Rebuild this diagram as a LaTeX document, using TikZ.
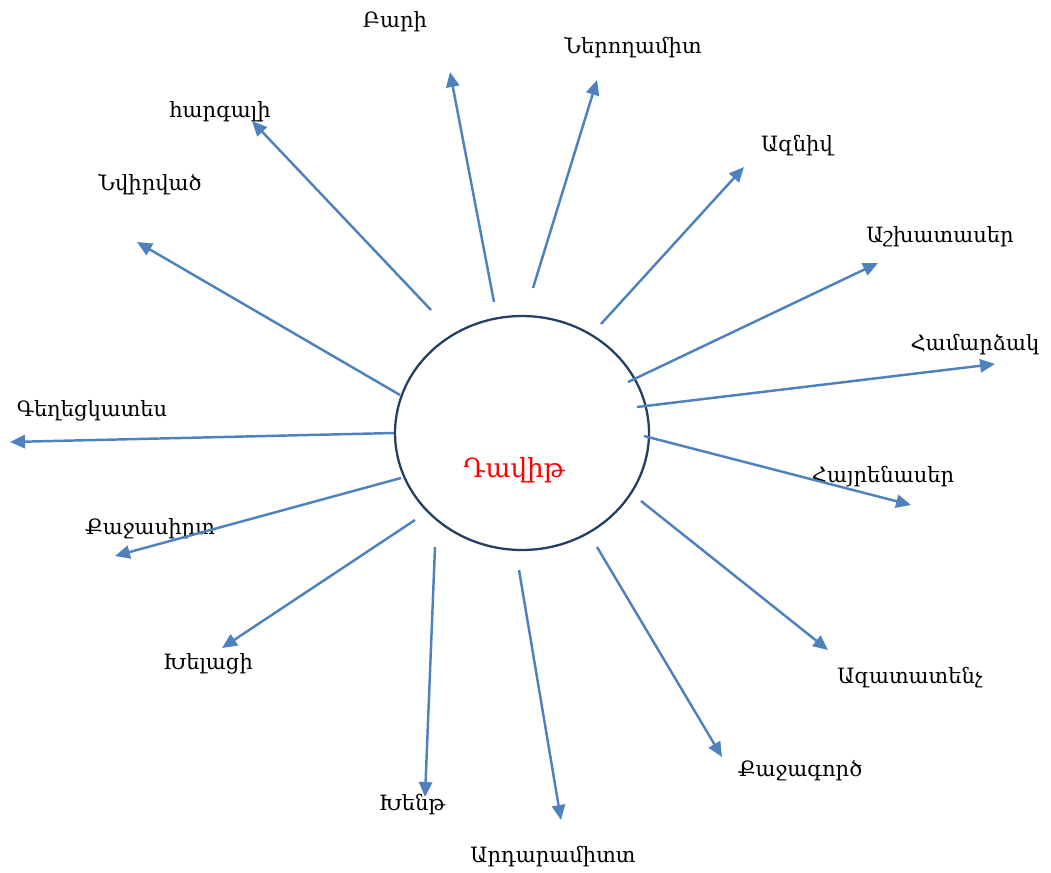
\documentclass[tikz,border=0pt]{standalone}
\usepackage{fontspec}
\setmainfont{DejaVu Serif}
\usetikzlibrary{arrows.meta,shapes.geometric}
\definecolor{spokeblue}{HTML}{4F81BD}
\definecolor{rimnavy}{HTML}{243F60}

\begin{document}
\begin{tikzpicture}[x=0.02cm,y=-0.02cm]

\tikzset{spoke/.style={spokeblue,line width=1.4pt,-{Triangle[length=8.5pt,width=7.5pt]}}}
\tikzset{trait/.style={font=\fontsize{12}{14}\selectfont,inner sep=0pt}}

\useasboundingbox (0,0) rectangle (1051,872);

\node[ellipse,draw=rimnavy,line width=1.3pt,minimum width=5.08cm,minimum height=4.68cm,inner sep=0pt] (david) at (522,433) {};
\node[trait,red,font=\fontsize{15}{17}\selectfont] (name) at (514,470) {Դավիթ};

% spokes: start, tip, tag, label position, word
\foreach \sx/\sy/\ex/\ey/\tag/\lx/\ly/\word in {
  494/302/450/72/bari/395/22/Բարի,
  533/288/597/80/nerogh/633/48/Ներողամիտ,
  431/310/252/121/hargali/220/112/հարգալի,
  601/324/744/167/azniv/797/146/Ազնիվ,
  400/395/137/242/nvirvats/150/185/Նվիրված,
  628/382/878/263/ashkhat/940/237/Աշխատասեր,
  637/407/995/364/hamardz/975/345/Համարձակ,
  394/433/10/442/geghets/92/411/Գեղեցկատես,
  644/436/911/505/hayren/883/477/Հայրենասեր,
  401/478/115/556/qajasirt/150/529/Քաջասիրտ,
  415/520/222/648/khelatsi/208/664/Խելացի,
  641/501/828/650/azatat/910/678/Ազատատենչ,
  597/547/722/757/qajagorts/800/771/Քաջագործ,
  435/547/425/797/khent/412/805/Խենթ,
  519/570/561/820/ardar/553/857/Արդարամիտտ}
{
  \coordinate (\tag-from) at (\sx,\sy);
  \coordinate (\tag-to) at (\ex,\ey);
  \node[trait] (\tag) at (\lx,\ly) {\word};
  \draw[spoke] (\tag-from) -- (\tag-to);
}

\end{tikzpicture}
\end{document}
